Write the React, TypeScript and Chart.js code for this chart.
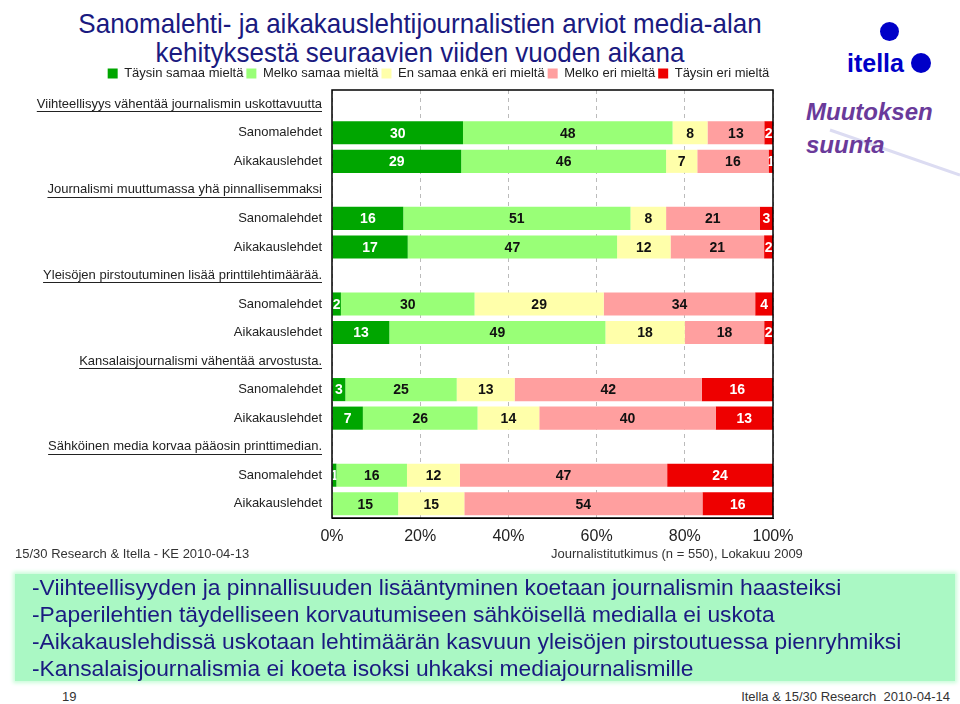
import React, { useEffect, useRef } from "react";
import { Chart, registerables } from "chart.js";

Chart.register(...registerables);

const categories = [
  "Viihteellisyys vähentää journalismin uskottavuutta", "Sanomalehdet", "Aikakauslehdet",
  "Journalismi muuttumassa yhä pinnallisemmaksi", "Sanomalehdet", "Aikakauslehdet",
  "Yleisöjen pirstoutuminen lisää printtilehtimäärää.", "Sanomalehdet", "Aikakauslehdet",
  "Kansalaisjournalismi vähentää arvostusta.", "Sanomalehdet", "Aikakauslehdet",
  "Sähköinen media korvaa pääosin printtimedian.", "Sanomalehdet", "Aikakauslehdet",
];
const headerRows = [0, 3, 6, 9, 12];

const seriesNames = [
  "Täysin samaa mieltä",
  "Melko samaa mieltä",
  "En samaa enkä eri mieltä",
  "Melko eri mieltä",
  "Täysin eri mieltä",
];
const taysinSamaa = [null, 30, 29, null, 16, 17, null, 2, 13, null, 3, 7, null, 1, 0];
const melkoSamaa = [null, 48, 46, null, 51, 47, null, 30, 49, null, 25, 26, null, 16, 15];
const enSamaaEnkaEri = [null, 8, 7, null, 8, 12, null, 29, 18, null, 13, 14, null, 12, 15];
const melkoEri = [null, 13, 16, null, 21, 21, null, 34, 18, null, 42, 40, null, 47, 54];
const taysinEri = [null, 2, 1, null, 3, 2, null, 4, 2, null, 16, 13, null, 24, 16];

const xTicks = [0, 20, 40, 60, 80, 100];

const rawSeries = [taysinSamaa, melkoSamaa, enSamaaEnkaEri, melkoEri, taysinEri];
const seriesColors = ["#00a600", "#99ff77", "#ffffaa", "#ff9f9f", "#ee0000"];
const labelColors = ["#ffffff", "#111111", "#111111", "#111111", "#ffffff"];

const FONT = "'Liberation Sans', Arial, Helvetica, sans-serif";

const rowSums = categories.map((_, i) =>
  rawSeries.reduce((s, arr) => s + (arr[i] == null ? 0 : (arr[i] as number)), 0)
);

const valueLabels = {
  id: "valueLabels",
  afterDatasetsDraw(chart: any) {
    const ctx = chart.ctx;
    chart.data.datasets.forEach((_: any, di: number) => {
      const meta = chart.getDatasetMeta(di);
      meta.data.forEach((bar: any, i: number) => {
        const v = rawSeries[di][i];
        if (v == null || v === 0) return;
        const p = bar.getProps(["x", "y", "base", "height"], true);
        const left = Math.min(p.x, p.base);
        const w = Math.abs(p.x - p.base);
        ctx.save();
        ctx.beginPath();
        ctx.rect(left, p.y - p.height / 2, w, p.height);
        ctx.clip();
        ctx.fillStyle = labelColors[di];
        ctx.font = `bold 14px ${FONT}`;
        ctx.textAlign = "center";
        ctx.textBaseline = "middle";
        ctx.fillText(String(v), left + w / 2, p.y + 1);
        ctx.restore();
      });
    });
  },
};

const unclipYLabels = {
  id: "unclipYLabels",
  afterLayout(chart: any) {
    const y = chart.scales.y;
    if (y) y.left = 0;
  },
};

const frameAndUnderline = {
  id: "frameAndUnderline",
  afterDraw(chart: any) {
    const ctx = chart.ctx;
    const a = chart.chartArea;
    ctx.save();
    ctx.strokeStyle = "#000";
    ctx.lineWidth = 1.5;
    ctx.strokeRect(a.left, a.top, a.right - a.left, a.bottom - a.top);
    const yScale = chart.scales.y;
    ctx.font = `13px ${FONT}`;
    ctx.strokeStyle = "#222";
    ctx.lineWidth = 1;
    headerRows.forEach((i) => {
      const y = Math.round(yScale.getPixelForValue(i) + 7) + 0.5;
      const w = ctx.measureText(categories[i]).width;
      const right = a.left - 10;
      ctx.beginPath();
      ctx.moveTo(right - w, y);
      ctx.lineTo(right, y);
      ctx.stroke();
    });
    ctx.restore();
  },
};

const CANVAS_W = 873;
const CANVAS_H = 483;

function BarChart() {
  const ref = useRef<HTMLCanvasElement>(null);
  useEffect(() => {
    if (!ref.current) return;
    const chart = new Chart(ref.current, {
      type: "bar",
      data: {
        labels: categories,
        datasets: seriesNames.map((name, di) => ({
          label: name,
          data: rawSeries[di].map((v, i) => (v == null ? null : (v / rowSums[i]) * 100)),
          backgroundColor: seriesColors[di],
          borderWidth: 0,
          barPercentage: 0.81,
          categoryPercentage: 1,
        })),
      },
      options: {
        indexAxis: "y",
        animation: false,
        responsive: false,
        maintainAspectRatio: false,
        layout: { padding: { left: 104, right: 100, top: -1, bottom: 0 } },
        plugins: {
          legend: {
            position: "top",
            labels: {
              boxWidth: 10,
              boxHeight: 10,
              padding: 3,
              color: "#222",
              font: { family: FONT, size: 13 },
            },
          },
          tooltip: { enabled: false },
        },
        scales: {
          x: {
            stacked: true,
            min: 0,
            max: 100,
            afterBuildTicks(scale: any) {
              scale.ticks = xTicks.map((v) => ({ value: v }));
            },
            afterFit(scale: any) {
              scale.height = 30;
            },
            ticks: {
              callback: (v: any) => `${v}%`,
              color: "#222",
              font: { family: FONT, size: 16 },
              padding: 9,
              maxRotation: 0,
            },
            grid: {
              color: "#bbbbbb",
              lineWidth: 1,
              drawTicks: false,
            },
            border: { display: true, color: "#000", dash: [4, 4] },
          },
          y: {
            stacked: true,
            afterFit(scale: any) {
              scale.width = 228;
            },
            ticks: {
              color: "#222",
              font: { family: FONT, size: 13 },
              padding: 10,
              autoSkip: false,
            },
            grid: { display: false, drawTicks: false },
            border: { display: false },
          },
        },
      },
      plugins: [unclipYLabels, valueLabels, frameAndUnderline],
    } as any);
    return () => chart.destroy();
  }, []);
  return (
    <div style={{ position: "absolute", left: 0, top: 65, width: CANVAS_W, height: CANVAS_H }}>
      <canvas ref={ref} width={CANVAS_W} height={CANVAS_H} style={{ width: CANVAS_W, height: CANVAS_H }} />
    </div>
  );
}

const summaryLines = [
  "-Viihteellisyyden ja pinnallisuuden lisääntyminen koetaan journalismin haasteiksi",
  "-Paperilehtien täydelliseen korvautumiseen sähköisellä medialla ei uskota",
  "-Aikakauslehdissä uskotaan lehtimäärän kasvuun yleisöjen pirstoutuessa pienryhmiksi",
  "-Kansalaisjournalismia ei koeta isoksi uhkaksi mediajournalismille",
];

export default function App() {
  return (
    <div
      style={{
        position: "absolute",
        left: 0,
        top: 0,
        width: 960,
        height: 704,
        background: "#fff",
        overflow: "hidden",
        fontFamily: FONT,
      }}
    >
      <div
        style={{
          position: "absolute",
          left: 0,
          top: 9,
          width: 840,
          textAlign: "center",
          fontSize: 27.5,
          lineHeight: "29px",
          color: "#1a1a80",
          transform: "scaleX(0.945)",
          transformOrigin: "420px 0",
        }}
      >
        Sanomalehti- ja aikakauslehtijournalistien arviot media-alan
        <br />
        kehityksestä seuraavien viiden vuoden aikana
      </div>

      <div style={{ position: "absolute", left: 880, top: 22, width: 19, height: 19, borderRadius: "50%", background: "#0000c8" }} />
      <div style={{ position: "absolute", left: 847, top: 48, fontSize: 25, fontWeight: "bold", color: "#0000c8", lineHeight: "30px" }}>
        itella
      </div>
      <div style={{ position: "absolute", left: 911, top: 53, width: 20, height: 20, borderRadius: "50%", background: "#0000c8" }} />

      <svg style={{ position: "absolute", left: 800, top: 120 }} width={160} height={60}>
        <line x1={30} y1={10} x2={160} y2={55} stroke="#dcdcf2" strokeWidth={3} />
      </svg>
      <div
        style={{
          position: "absolute",
          left: 806,
          top: 95,
          fontSize: 24,
          fontWeight: "bold",
          fontStyle: "italic",
          color: "#6a3a9a",
          lineHeight: "33px",
        }}
      >
        Muutoksen
        <br />
        suunta
      </div>

      <BarChart />

      <div style={{ position: "absolute", left: 15, top: 546, fontSize: 13, color: "#333" }}>
        15/30 Research &amp; Itella - KE 2010-04-13
      </div>
      <div style={{ position: "absolute", left: 551, top: 546, fontSize: 13, color: "#333" }}>
        Journalistitutkimus (n = 550), Lokakuu 2009
      </div>

      <div
        style={{
          position: "absolute",
          left: 15,
          top: 574,
          width: 940,
          height: 107,
          background: "#aaf8c4",
          boxShadow: "0 0 4px 2px #c8fcd8",
        }}
      />
      <div
        style={{
          position: "absolute",
          left: 32,
          top: 574,
          fontSize: 22.8,
          lineHeight: "27px",
          color: "#1a1a80",
          whiteSpace: "nowrap",
        }}
      >
        {summaryLines.map((l, i) => (
          <div key={i}>{l}</div>
        ))}
      </div>

      <div style={{ position: "absolute", left: 62, top: 689, fontSize: 13, color: "#333" }}>19</div>
      <div style={{ position: "absolute", right: 10, top: 689, fontSize: 13, color: "#333" }}>
        Itella &amp; 15/30 Research&nbsp;&nbsp;2010-04-14
      </div>
    </div>
  );
}
